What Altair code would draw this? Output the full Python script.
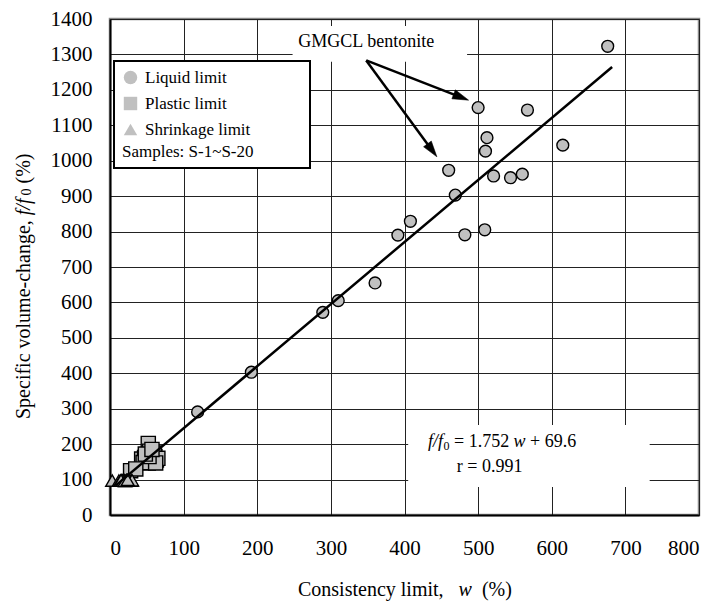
import math
import altair as alt
import pandas as pd

FONT = "Liberation Serif"

# ---------------- data ----------------
series_names = ["Liquid limit", "Plastic limit", "Shrinkage limit"]

liquid_w = [676, 500, 567, 512, 510, 615, 460, 521, 544, 560, 469, 408, 391, 482, 509, 360, 310, 289, 192, 119]
liquid_f = [1323, 1150, 1143, 1065, 1027, 1044, 973, 957, 952, 962, 903, 829, 790, 791, 805, 655, 605, 572, 403, 291]

plastic_w = [52, 54, 61, 43, 52, 63, 28, 55, 58, 47, 60, 65, 50, 56, 45, 62, 53, 48, 57, 35]
plastic_f = [202, 180, 165, 158, 147, 155, 125, 170, 150, 162, 175, 160, 150, 158, 148, 147, 165, 172, 185, 130]

shrink_w = [3, 12, 17, 20, 23, 26, 29, 14, 19, 22, 25, 16, 21, 24, 23, 27, 30, 15, 20, 24]
shrink_f = [97, 97, 98, 97, 99, 98, 97, 97, 99, 98, 97, 98, 96, 98, 99, 97, 98, 98, 96, 99]

# regression shown in the chart: f/f0 = 1.752 w + 69.6
reg_slope = 1.752
reg_intercept = 69.6
reg_w = [8, 682]

x_ticks = [0, 100, 200, 300, 400, 500, 600, 700, 800]
y_ticks = [0, 100, 200, 300, 400, 500, 600, 700, 800, 900, 1000, 1100, 1200, 1300, 1400]

# annotations (data units)
note_text = "GMGCL bentonite"
note_w, note_f = 348, 1335
note_box_w = [248, 485]
note_box_f = [1279, 1380]
arrow_from_w, arrow_from_f = 348, 1283
arrow_tip_w = [487, 444]
arrow_tip_f = [1171, 1011]

eq_box_w = [405, 733]
eq_box_f = [79, 254]
eq_w, eq_f = 432, 206
r_w, r_f = 471, 135

# ---------------- layout ----------------
W, H = 589, 496
XMAX, YMAX = 800, 1400
sx, sy = W / XMAX, H / YMAX

xscale = alt.Scale(domain=[0, XMAX], nice=False, zero=False)
yscale = alt.Scale(domain=[0, YMAX], nice=False, zero=False)
axis_common = dict(title=None, grid=True, ticks=False, format="d",
                   labelFont=FONT, labelFontSize=21, labelColor="black",
                   domainColor="black", domainWidth=2,
                   gridColor="#222222", gridWidth=1, gridOpacity=1)
xaxis = alt.Axis(values=x_ticks, labelPadding=22, **axis_common)
yaxis = alt.Axis(values=y_ticks, labelPadding=18, **axis_common)


def X(f):
    return alt.X(f"{f}:Q", scale=xscale, axis=xaxis)


def Y(f):
    return alt.Y(f"{f}:Q", scale=yscale, axis=yaxis)


# points table
pts = pd.DataFrame({
    "w": liquid_w + plastic_w + shrink_w,
    "f": liquid_f + plastic_f + shrink_f,
    "series": [series_names[0]] * len(liquid_w) + [series_names[1]] * len(plastic_w) + [series_names[2]] * len(shrink_w),
})

legend = alt.Legend(
    title="Samples: S-1~S-20" + "\u2800" * 4,
    titleOrient="bottom", titleAnchor="start",
    orient="none", legendX=4, legendY=42,
    titleFont=FONT, titleFontSize=17, titleFontWeight="normal", titleColor="black", titlePadding=6,
    labelFont=FONT, labelFontSize=17, labelColor="black", labelOffset=6, labelLimit=300, titleLimit=400,
    rowPadding=8, padding=8, strokeColor="black", fillColor="white", symbolSize=180,
    symbolFillColor="#a6a6a6", symbolStrokeColor="#a6a6a6", symbolStrokeWidth=0,
)
shape_enc = alt.Shape("series:N", scale=alt.Scale(domain=series_names, range=["circle", "square", "triangle-up"]),
                      legend=legend)
mark_sizes = [140, 200, 170]

point_layers = []
for name, sz in zip(series_names, mark_sizes):
    point_layers.append(
        alt.Chart(pts).transform_filter(alt.datum.series == name)
        .mark_point(filled=True, fill="#c0c0c0", stroke="black", strokeWidth=1.4, opacity=1, size=sz)
        .encode(x=X("w"), y=Y("f"), shape=shape_enc)
    )

reg_df = pd.DataFrame({"w": reg_w, "f": [reg_slope * w + reg_intercept for w in reg_w]})
reg_line = alt.Chart(reg_df).mark_line(color="black", strokeWidth=2.5).encode(x=X("w"), y=Y("f"))

boxes_df = pd.DataFrame({
    "w1": [note_box_w[0], eq_box_w[0]], "w2": [note_box_w[1], eq_box_w[1]],
    "f1": [note_box_f[0], eq_box_f[0]], "f2": [note_box_f[1], eq_box_f[1]],
})
boxes = alt.Chart(boxes_df).mark_rect(fill="white").encode(
    x=X("w1"), x2="w2", y=Y("f1"), y2="f2")

# arrows
arr_rows = []
for tx, ty in zip(arrow_tip_w, arrow_tip_f):
    dxp = (tx - arrow_from_w) * sx
    dyp = -(ty - arrow_from_f) * sy
    L = math.hypot(dxp, dyp)
    ux, uy = dxp / L, dyp / L
    ang = math.degrees(math.atan2(ux, -uy)) % 360
    bw = tx - 12 * ux / sx
    bf = ty + 12 * uy / sy
    arr_rows.append({"w0": arrow_from_w, "f0": arrow_from_f, "w1": bw, "f1": bf, "tw": tx, "tf": ty, "ang": ang})
arr_df = pd.DataFrame(arr_rows)
arrow_lines = alt.Chart(arr_df).mark_rule(color="black", strokeWidth=2.5).encode(
    x=X("w0"), y=Y("f0"), x2="w1", y2="f1")
arrow_heads = alt.Chart(arr_df).mark_point(
    shape="M0,0L0.6,2L-0.6,2Z", filled=True, fill="black", stroke="black", strokeWidth=0.5, size=256, opacity=1
).encode(x=X("tw"), y=Y("tf"), angle=alt.Angle("ang:Q", scale=None))


def dtxt(w, f, text, dx=0, dy=0, size=18, italic=False, align="left"):
    return alt.Chart(pd.DataFrame({"w": [w], "f": [f]})).mark_text(
        text=text, dx=dx, dy=dy, fontSize=size, font=FONT, fontStyle="italic" if italic else "normal",
        align=align, baseline="middle", color="black").encode(x=X("w"), y=Y("f"))


def ptxt(px, py, text, size=20, italic=False, angle=0):
    return alt.Chart(pd.DataFrame({"a": [0]})).mark_text(
        text=text, fontSize=size, font=FONT, fontStyle="italic" if italic else "normal",
        align="left", baseline="middle", angle=angle, color="black").encode(x=alt.value(px), y=alt.value(py))


texts = [
    dtxt(note_w, note_f, note_text, size=18, align="center"),
    dtxt(eq_w, eq_f, "f/f", italic=True),
    dtxt(eq_w, eq_f, "0", dx=15.5, dy=4, size=12),
    dtxt(eq_w, eq_f, "= 1.752", dx=26),
    dtxt(eq_w, eq_f, "w", dx=85.5, italic=True),
    dtxt(eq_w, eq_f, "+ 69.6", dx=102),
    dtxt(r_w, r_f, "r = 0.991"),
]

# axis titles (mixed italic pieces)
xt0, xty = 188, 571
titles = [
    ptxt(xt0, xty, "Consistency limit,"),
    ptxt(xt0 + 160.6, xty, "w", italic=True),
    ptxt(xt0 + 183.9, xty, "(%)"),
]
yt0, ytx = 400, -86
titles += [
    ptxt(ytx, yt0, "Specific volume-change,", angle=270),
    ptxt(ytx, yt0 - 203.8, "f/f", italic=True, angle=270),
    ptxt(ytx + 3, yt0 - 223.5, "0", size=14, angle=270),
    ptxt(ytx, yt0 - 235.5, "(%)", angle=270),
]

chart = alt.layer(boxes, *point_layers, reg_line, arrow_lines, arrow_heads, *texts, *titles).properties(
    width=W, height=H,
    padding={"left": 110, "top": 19, "right": 15, "bottom": 95},
    autosize=alt.AutoSizeParams(type="none"),
    background="white",
).configure(
    font=FONT
).configure_view(
    stroke="#888888", strokeWidth=2.5
).configure_legend(
    strokeWidth=2
)

chart.save("out.html", embed_options={"renderer": "svg", "actions": False})
